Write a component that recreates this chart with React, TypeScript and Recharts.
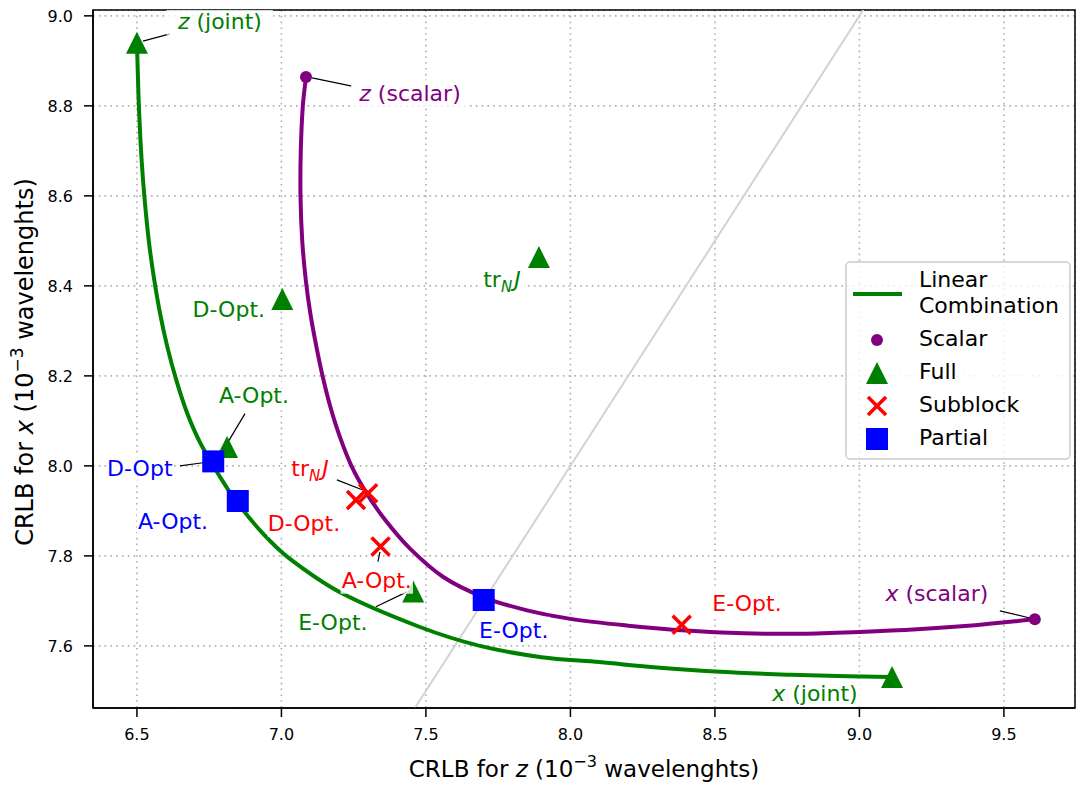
import {
  CartesianGrid,
  ComposedChart,
  Legend,
  Line,
  ReferenceArea,
  ReferenceLine,
  Scatter,
  XAxis,
  YAxis,
} from "recharts";

const FONT = "DejaVu Sans, Verdana, sans-serif";
const GREEN = "#008000";
const PURPLE = "#800080";
const RED = "#ff0000";
const BLUE = "#0000ff";

const X_DOMAIN: [number, number] = [6.348, 9.746];
const Y_DOMAIN: [number, number] = [7.462, 9.013];
const xTicks = [6.5, 7.0, 7.5, 8.0, 8.5, 9.0, 9.5];
const yTicks = [7.6, 7.8, 8.0, 8.2, 8.4, 8.6, 8.8, 9.0];

// curves
const linearCombination = [
  { x: 6.5, y: 8.94 },
  { x: 6.5055, y: 8.82 },
  { x: 6.5125, y: 8.72 },
  { x: 6.521, y: 8.636 },
  { x: 6.531, y: 8.562 },
  { x: 6.5436, y: 8.487 },
  { x: 6.56, y: 8.413 },
  { x: 6.58, y: 8.339 },
  { x: 6.605, y: 8.265 },
  { x: 6.636, y: 8.191 },
  { x: 6.674, y: 8.117 },
  { x: 6.72, y: 8.05 },
  { x: 6.79, y: 7.973 },
  { x: 6.843, y: 7.922 },
  { x: 6.934, y: 7.851 },
  { x: 7.026, y: 7.795 },
  { x: 7.206, y: 7.718 },
  { x: 7.479, y: 7.642 },
  { x: 7.687, y: 7.6 },
  { x: 7.9, y: 7.575 },
  { x: 8.1, y: 7.564 },
  { x: 8.3, y: 7.552 },
  { x: 8.5, y: 7.543 },
  { x: 8.75, y: 7.536 },
  { x: 9.0, y: 7.532 },
  { x: 9.113, y: 7.531 },
];

const scalarCurve = [
  { x: 7.085, y: 8.864 },
  { x: 7.074, y: 8.8 },
  { x: 7.067, y: 8.7 },
  { x: 7.066, y: 8.6 },
  { x: 7.072, y: 8.5 },
  { x: 7.085, y: 8.409 },
  { x: 7.1, y: 8.339 },
  { x: 7.121, y: 8.265 },
  { x: 7.143, y: 8.198 },
  { x: 7.169, y: 8.132 },
  { x: 7.202, y: 8.065 },
  { x: 7.243, y: 7.999 },
  { x: 7.294, y: 7.94 },
  { x: 7.36, y: 7.879 },
  { x: 7.445, y: 7.816 },
  { x: 7.56, y: 7.753 },
  { x: 7.7, y: 7.708 },
  { x: 7.85, y: 7.679 },
  { x: 8.0, y: 7.66 },
  { x: 8.2, y: 7.645 },
  { x: 8.4, y: 7.634 },
  { x: 8.6, y: 7.628 },
  { x: 8.8, y: 7.627 },
  { x: 9.0, y: 7.631 },
  { x: 9.2, y: 7.637 },
  { x: 9.4, y: 7.646 },
  { x: 9.607, y: 7.659 },
];

// markers
const scalarPoints = [
  { x: 7.085, y: 8.864 },
  { x: 9.607, y: 7.659 },
];
const fullPoints = [
  { x: 6.5, y: 8.94 },
  { x: 7.891, y: 8.464 },
  { x: 7.003, y: 8.371 },
  { x: 6.812, y: 8.042 },
  { x: 7.456, y: 7.721 },
  { x: 9.113, y: 7.531 },
];
const subblockPoints = [
  { x: 7.3, y: 7.939 },
  { x: 7.258, y: 7.924 },
  { x: 7.343, y: 7.821 },
  { x: 8.385, y: 7.647 },
];
const partialPoints = [
  { x: 6.764, y: 8.01 },
  { x: 6.849, y: 7.922 },
  { x: 7.7, y: 7.702 },
];

// y = x reference
const diagonal = [
  { x: 7.3, y: 7.3 },
  { x: 9.2, y: 9.2 },
];

// text annotations (centre of text, data coords)
const annotations = [
  { text: "z (joint)", color: GREEN, x: 6.787, y: 8.989 },
  { text: "z (scalar)", color: PURPLE, x: 7.445, y: 8.829 },
  { text: "trNJ", color: GREEN, x: 7.763, y: 8.416 },
  { text: "D-Opt.", color: GREEN, x: 6.818, y: 8.349 },
  { text: "A-Opt.", color: GREEN, x: 6.905, y: 8.158 },
  { text: "D-Opt", color: BLUE, x: 6.51, y: 7.996 },
  { text: "A-Opt.", color: BLUE, x: 6.625, y: 7.878 },
  { text: "trNJ", color: RED, x: 7.099, y: 7.996 },
  { text: "D-Opt.", color: RED, x: 7.078, y: 7.873 },
  { text: "A-Opt.", color: RED, x: 7.33, y: 7.747 },
  { text: "E-Opt.", color: GREEN, x: 7.178, y: 7.653 },
  { text: "E-Opt.", color: BLUE, x: 7.804, y: 7.636 },
  { text: "E-Opt.", color: RED, x: 8.611, y: 7.696 },
  { text: "x (scalar)", color: PURPLE, x: 9.268, y: 7.718 },
  { text: "x (joint)", color: GREEN, x: 8.846, y: 7.496 },
];

const leaders = [
  [{ x: 6.521, y: 8.944 }, { x: 6.614, y: 8.96 }],
  [{ x: 7.106, y: 8.862 }, { x: 7.244, y: 8.844 }],
  [{ x: 6.818, y: 8.056 }, { x: 6.874, y: 8.116 }],
  [{ x: 6.649, y: 8.0 }, { x: 6.728, y: 8.007 }],
  [{ x: 7.192, y: 7.969 }, { x: 7.279, y: 7.947 }],
  [{ x: 7.341, y: 7.809 }, { x: 7.334, y: 7.787 }],
  [{ x: 7.327, y: 7.687 }, { x: 7.434, y: 7.72 }],
  [{ x: 9.486, y: 7.678 }, { x: 9.59, y: 7.662 }],
];

const legendLabels = ["Linear", "Combination", "Scalar", "Full", "Subblock", "Partial"];

// smooth parametric curve through the points (chord-length Catmull-Rom)
function smoothCurve(context: any) {
  let pts: [number, number][] = [];
  const dist = (a: [number, number], b: [number, number]) =>
    Math.hypot(b[0] - a[0], b[1] - a[1]);
  return {
    areaStart() {},
    areaEnd() {},
    lineStart() {
      pts = [];
    },
    point(x: number, y: number) {
      pts.push([+x, +y]);
    },
    lineEnd() {
      if (!pts.length) return;
      context.moveTo(pts[0][0], pts[0][1]);
      for (let i = 0; i < pts.length - 1; i++) {
        const p1 = pts[i];
        const p2 = pts[i + 1];
        const p0 = pts[i - 1] || p1;
        const p3 = pts[i + 2] || p2;
        const d01 = dist(p0, p1);
        const d12 = dist(p1, p2);
        const d23 = dist(p2, p3);
        const k1 = d12 / (3 * (d01 + d12 || 1));
        const k2 = d12 / (3 * (d12 + d23 || 1));
        context.bezierCurveTo(
          p1[0] + (p2[0] - p0[0]) * k1,
          p1[1] + (p2[1] - p0[1]) * k1,
          p2[0] - (p3[0] - p1[0]) * k2,
          p2[1] - (p3[1] - p1[1]) * k2,
          p2[0],
          p2[1]
        );
      }
    },
  };
}

function Triangle({ cx, cy, color = GREEN }: any) {
  return (
    <polygon
      points={`${cx},${cy - 11} ${cx - 11},${cy + 11} ${cx + 11},${cy + 11}`}
      fill={color}
    />
  );
}

function Cross({ cx, cy }: any) {
  const d = 9;
  return (
    <g stroke={RED} strokeWidth={3.5}>
      <line x1={cx - d} y1={cy - d} x2={cx + d} y2={cy + d} />
      <line x1={cx - d} y1={cy + d} x2={cx + d} y2={cy - d} />
    </g>
  );
}

function Square({ cx, cy }: any) {
  return <rect x={cx - 11} y={cy - 11} width={22} height={22} fill={BLUE} />;
}

function Dot({ cx, cy }: any) {
  return <circle cx={cx} cy={cy} r={6} fill={PURPLE} />;
}

function richText(t: string) {
  if (t === "trNJ") {
    return [
      <tspan key="a">tr</tspan>,
      <tspan key="b" fontStyle="italic" fontSize={15} dy={5}>
        N
      </tspan>,
      <tspan key="c" fontStyle="italic" dx={2} dy={-5}>
        J
      </tspan>,
    ];
  }
  const m = /^([xz]) (.*)$/.exec(t);
  if (m) {
    return [
      <tspan key="a" fontStyle="italic">
        {m[1]}
      </tspan>,
      <tspan key="b">{" " + m[2]}</tspan>,
    ];
  }
  return t;
}

function AnnotationLabel(props: any) {
  const { cx, cy, payload } = props;
  const w = payload.text === "trNJ" ? 46 : payload.text.length * 11.4 + 4;
  return (
    <g>
      <rect x={cx - w / 2} y={cy - 13} width={w} height={27} fill="#fff" fillOpacity={0.8} />
      <text
        x={cx}
        y={cy + 8}
        textAnchor="middle"
        fontSize={22}
        fontFamily={FONT}
        fill={payload.color}
      >
        {richText(payload.text)}
      </text>
    </g>
  );
}

function XTitle(props: any) {
  const vb = props.viewBox || { x: 93, y: 708, width: 982 };
  return (
    <text
      x={vb.x + vb.width / 2}
      y={vb.y + 69}
      textAnchor="middle"
      fontSize={23}
      fontFamily={FONT}
      fill="#000"
    >
      {"CRLB for "}
      <tspan fontStyle="italic">z</tspan>
      {" (10"}
      <tspan dy={-10} fontSize={16}>
        −3
      </tspan>
      <tspan dy={10}>{" wavelenghts)"}</tspan>
    </text>
  );
}

function YTitle() {
  return (
    <text
      transform="translate(33, 362) rotate(-90)"
      textAnchor="middle"
      fontSize={24}
      fontFamily={FONT}
      fill="#000"
    >
      {"CRLB for "}
      <tspan fontStyle="italic">x</tspan>
      {" (10"}
      <tspan dy={-10} fontSize={17}>
        −3
      </tspan>
      <tspan dy={10}>{" wavelenghts)"}</tspan>
    </text>
  );
}

function LegendBox() {
  const tx = 74;
  return (
    <svg width={226} height={199} style={{ display: "block" }}>
      <rect
        x={1}
        y={1}
        width={224}
        height={197}
        rx={4}
        fill="#fff"
        fillOpacity={0.8}
        stroke="#cccccc"
        strokeWidth={1.5}
      />
      <line x1={8} y1={33} x2={57} y2={33} stroke={GREEN} strokeWidth={4} />
      <Dot cx={32} cy={79} />
      <Triangle cx={32} cy={112} />
      <Cross cx={32} cy={145} />
      <Square cx={32} cy={178} />
      <g fontSize={22} fontFamily={FONT} fill="#000">
        <text x={tx} y={26}>{legendLabels[0]}</text>
        <text x={tx} y={52}>{legendLabels[1]}</text>
        <text x={tx} y={85}>{legendLabels[2]}</text>
        <text x={tx} y={118}>{legendLabels[3]}</text>
        <text x={tx} y={151}>{legendLabels[4]}</text>
        <text x={tx} y={184}>{legendLabels[5]}</text>
      </g>
    </svg>
  );
}

export default function App() {
  const tick = { fill: "#000", fontSize: 16, fontFamily: FONT };
  return (
    <div style={{ position: "absolute", left: 0, top: 0, background: "#fff" }}>
      <ComposedChart
        width={1076}
        height={785}
        margin={{ top: 10, right: 1, bottom: 0, left: 0 }}
      >
        <CartesianGrid stroke="#b0b0b0" strokeWidth={1.6} strokeDasharray="1.6 4.2" />
        <XAxis
          type="number"
          dataKey="x"
          domain={X_DOMAIN}
          ticks={xTicks}
          interval={0}
          allowDataOverflow
          tickFormatter={(v: number) => v.toFixed(1)}
          height={77}
          tickSize={9}
          tickMargin={12}
          tick={tick}
          stroke="#000"
          strokeWidth={1.5}
          label={<XTitle />}
        />
        <YAxis
          type="number"
          dataKey="y"
          domain={Y_DOMAIN}
          ticks={yTicks}
          interval={0}
          allowDataOverflow
          tickFormatter={(v: number) => v.toFixed(1)}
          width={93}
          tickSize={9}
          tickMargin={11}
          tick={tick}
          stroke="#000"
          strokeWidth={1.5}
          label={<YTitle />}
        />
        <ReferenceLine
          segment={diagonal}
          stroke="#d3d3d3"
          strokeWidth={2}
          ifOverflow="hidden"
        />
        <ReferenceArea
          x1={X_DOMAIN[0]}
          x2={X_DOMAIN[1]}
          y1={Y_DOMAIN[0]}
          y2={Y_DOMAIN[1]}
          fill="none"
          stroke="#000"
          strokeWidth={1.5}
        />
        <Line
          data={linearCombination}
          dataKey="y"
          type={smoothCurve as any}
          stroke={GREEN}
          strokeWidth={4}
          dot={false}
          activeDot={false}
          isAnimationActive={false}
        />
        <Line
          data={scalarCurve}
          dataKey="y"
          type={smoothCurve as any}
          stroke={PURPLE}
          strokeWidth={4}
          dot={false}
          activeDot={false}
          isAnimationActive={false}
        />
        {leaders.map((seg, i) => (
          <ReferenceLine key={i} segment={seg} stroke="#000" strokeWidth={1.2} />
        ))}
        <Scatter data={scalarPoints} shape={<Dot />} isAnimationActive={false} />
        <Scatter data={fullPoints} shape={<Triangle />} isAnimationActive={false} />
        <Scatter data={subblockPoints} shape={<Cross />} isAnimationActive={false} />
        <Scatter data={partialPoints} shape={<Square />} isAnimationActive={false} />
        <Scatter data={annotations} shape={<AnnotationLabel />} isAnimationActive={false} />
        <Legend
          layout="vertical"
          align="center"
          verticalAlign="middle"
          content={() => <LegendBox />}
          wrapperStyle={{ left: 845, top: 261, width: 226, height: 199 }}
        />
      </ComposedChart>
    </div>
  );
}
